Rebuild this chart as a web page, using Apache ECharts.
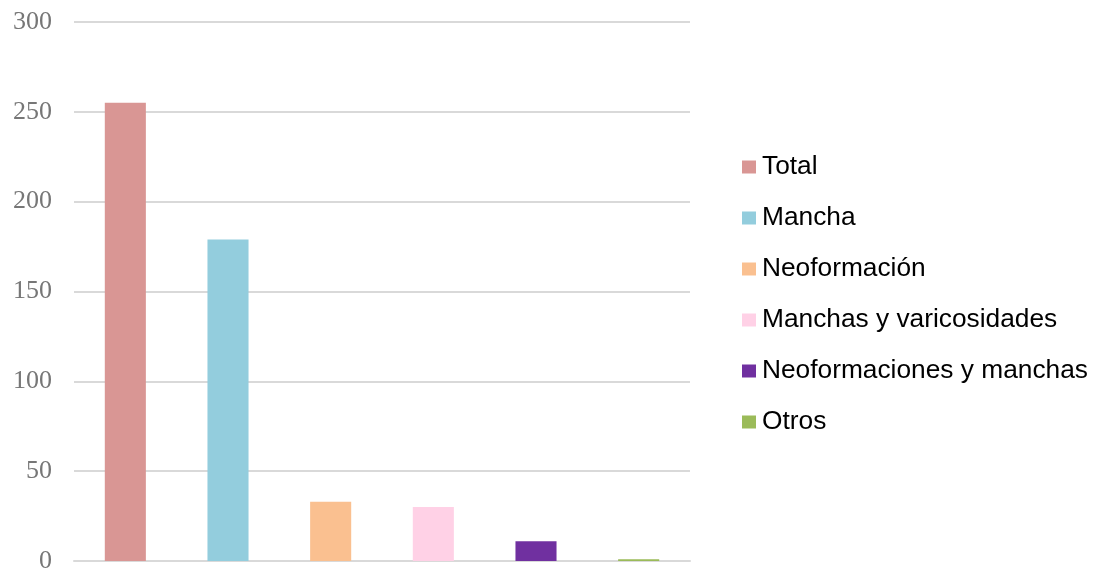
<!DOCTYPE html>
<html>
<head>
<meta charset="utf-8">
<script src="https://cdn.jsdelivr.net/npm/echarts@6/dist/echarts.min.js"></script>
<style>
  html, body { margin: 0; padding: 0; background: #ffffff; }
  #chart { width: 1094px; height: 570px; }
</style>
</head>
<body>
<div id="chart"></div>
<script>
// Categories, one bar each (also used as legend entries)
const categories = ['Total', 'Mancha', 'Neoformación', 'Manchas y varicosidades', 'Neoformaciones y manchas', 'Otros'];
const values = [255, 179, 33, 30, 11, 1];
const colors = ['#d99694', '#93cddd', '#fac090', '#ffd1e6', '#7030a0', '#9bbb59'];
const yTicks = { min: 0, max: 300, interval: 50 };

// One series per category so every bar gets its own legend entry
const series = categories.map((name, i) => ({
  name: name,
  type: 'bar',
  stack: 'all',
  barWidth: '40%',
  itemStyle: { color: colors[i] },
  data: values.map((v, j) => (j === i ? v : '-'))
}));

const chart = echarts.init(document.getElementById('chart'));
chart.setOption({
  animation: false,
  backgroundColor: '#ffffff',
  grid: { left: 74, right: 404, top: 22, bottom: 9, containLabel: false, outerBoundsMode: 'none' },
  legend: {
    orient: 'vertical',
    left: 737,
    top: 149,
    itemWidth: 14,
    itemHeight: 13,
    itemGap: 25,
    icon: 'rect',
    selectedMode: false,
    textStyle: { fontFamily: 'Liberation Sans', fontSize: 26.3, color: '#000000', padding: [0, 0, 0, 1] },
    data: categories
  },
  xAxis: {
    type: 'category',
    data: categories,
    axisLine: { show: true, lineStyle: { color: '#d9d9d9', width: 2 } },
    axisTick: { show: false },
    axisLabel: { show: false }
  },
  yAxis: {
    type: 'value',
    min: yTicks.min,
    max: yTicks.max,
    interval: yTicks.interval,
    axisLine: { show: false },
    axisTick: { show: false },
    splitLine: { lineStyle: { color: '#d9d9d9', width: 2 } },
    axisLabel: {
      margin: 22,
      fontFamily: 'Liberation Serif',
      fontSize: 26,
      color: '#777777'
    }
  },
  series: series
});
</script>
</body>
</html>
